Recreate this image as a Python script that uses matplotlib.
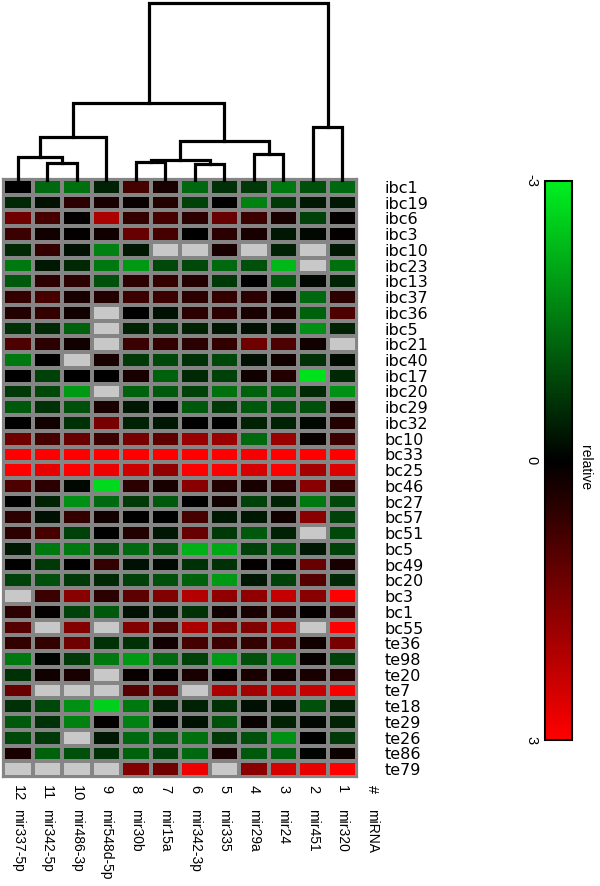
import numpy as np
import matplotlib
matplotlib.use("Agg")
from matplotlib import pyplot as plt
from matplotlib.colors import LinearSegmentedColormap

nan = np.nan

# columns, left to right as drawn
col_numbers = ["12", "11", "10", "9", "8", "7", "6", "5", "4", "3", "2", "1"]
col_names = ["mir337-5p", "mir342-5p", "mir486-3p", "mir548d-5p", "mir30b", "mir15a",
             "mir342-3p", "mir335", "mir29a", "mir24", "mir451", "mir320"]

ibc_rows = ["ibc1", "ibc19", "ibc6", "ibc3", "ibc10", "ibc23", "ibc13", "ibc37",
            "ibc36", "ibc5", "ibc21", "ibc40", "ibc17", "ibc20", "ibc29", "ibc32"]
ibc_values = [
    [0.0, -1.3, -1.4, -0.4, 0.8, 0.3, -1.3, -0.6, -0.7, -1.5, -1.0, -1.3],
    [-0.5, -0.2, 0.5, 0.3, 0.1, 0.4, -0.8, 0.0, -1.6, -0.7, -0.3, -0.3],
    [1.3, 0.8, 0.05, 2.0, 0.6, 0.8, 0.5, 1.2, 0.7, 0.3, -0.8, 0.05],
    [0.7, 0.2, 0.05, 0.2, 1.2, 0.8, 0.0, 0.5, 0.3, -0.3, -0.1, 0.05],
    [-0.5, 0.6, -0.2, -1.6, -0.3, nan, nan, 0.3, nan, -0.4, nan, -0.3],
    [-1.5, -0.3, -0.5, -1.5, -1.9, -0.9, -0.9, -1.3, -1.0, -2.3, nan, -1.4],
    [-1.1, 0.5, 0.5, -1.0, 0.5, 0.6, 0.4, -0.7, 0.0, -1.1, -0.1, -0.4],
    [0.6, 0.8, 0.3, 0.4, 0.7, 0.7, 0.5, 0.6, 0.5, 0.1, -1.3, 0.5],
    [0.4, 0.6, 0.2, nan, 0.0, -0.2, 0.5, 0.5, 0.3, 0.3, -1.2, 0.9],
    [-0.6, -0.5, -1.2, nan, -0.4, -0.6, -0.4, -0.3, -0.2, -0.3, -1.8, -0.4],
    [0.9, 0.5, 0.2, nan, 0.7, 0.6, 0.5, 0.6, 1.3, 0.9, 0.2, nan],
    [-1.5, 0.0, nan, 0.3, -0.7, -0.9, -0.6, -0.9, -0.2, 0.2, -0.6, -0.15],
    [0.0, -0.8, 0.0, 0.0, 0.3, -1.2, -0.5, -0.8, 0.2, 0.4, -2.8, -0.5],
    [-0.7, -0.9, -1.9, nan, -1.2, -1.1, -0.8, -1.4, -1.2, -1.2, -0.5, -1.8],
    [-1.1, -0.6, -1.0, 0.3, -0.3, 0.0, -1.1, -0.7, -1.1, -1.0, -1.0, 0.3],
    [0.0, 0.2, -0.6, 1.4, -0.4, -0.3, 0.0, 0.0, -0.4, -0.4, -0.1, 0.4],
]

bc_rows = ["bc10", "bc33", "bc25", "bc46", "bc27", "bc57", "bc51", "bc5", "bc49",
           "bc20", "bc3", "bc1", "bc55"]
bc_values = [
    [1.3, 0.8, 1.2, 0.7, 1.4, 1.1, 1.8, 1.8, -1.3, 1.8, 0.1, 0.7],
    [3.0, 3.0, 3.0, 3.0, 3.0, 3.0, 3.0, 3.0, 2.9, 3.0, 3.0, 3.0],
    [3.0, 2.7, 3.0, 2.8, 2.4, 1.7, 3.0, 3.0, 2.5, 3.0, 1.9, 2.6],
    [0.9, 0.5, -0.1, -2.7, 0.5, 0.3, 1.6, 0.4, 0.3, 0.5, 1.6, 0.6],
    [0.0, -0.4, -1.8, -1.3, -0.7, -1.1, 0.0, 0.2, -0.8, -0.4, -1.5, -0.9],
    [0.5, -0.2, 0.6, 0.2, 0.0, 0.0, 0.8, -0.3, -0.3, 0.2, 1.6, -0.8],
    [0.5, 0.8, -0.8, 0.0, 0.4, -0.3, 1.2, -0.7, -1.1, -0.4, nan, -0.9],
    [-0.3, -1.5, -1.5, -1.0, -1.3, -1.0, -2.2, -2.1, -0.8, -1.1, -0.3, -0.8],
    [0.0, -0.7, 0.0, 0.6, -0.2, -0.1, -0.6, -0.6, 0.05, 0.05, 1.2, 0.3],
    [-0.8, -1.0, -0.7, -0.5, -0.8, -1.0, -1.2, -1.9, -0.3, -0.8, 1.0, -0.5],
    [nan, 0.7, 1.6, 0.5, 1.1, 1.5, 2.1, 1.7, 1.7, 2.3, 1.6, 3.0],
    [0.5, 0.05, -0.8, -1.1, -0.2, -0.3, -0.6, 0.2, 0.3, 0.4, 0.05, 0.5],
    [1.0, nan, 1.5, nan, 1.5, 1.0, 2.0, 1.5, 1.5, 2.2, nan, 3.0],
]

te_rows = ["te36", "te98", "te20", "te7", "te18", "te29", "te26", "te86", "te79"]
te_values = [
    [0.6, 0.6, 1.3, -0.6, -0.6, 0.2, 0.8, 0.7, 0.6, 1.0, 0.2, 1.4],
    [-1.5, -0.05, -0.7, -1.5, -1.9, -1.3, -0.8, -1.9, -1.0, -1.7, 0.1, -0.8],
    [-0.6, 0.2, 0.3, nan, 0.1, 0.05, 0.3, 0.05, 0.3, 0.2, 0.3, 0.4],
    [1.2, nan, nan, nan, 1.0, 1.2, nan, 2.0, 1.9, 2.3, 2.3, 2.9],
    [-0.6, -0.9, -1.8, -2.6, -1.5, -0.4, -0.4, -0.6, -0.2, -0.2, -1.0, -0.4],
    [-1.1, -0.6, -1.6, 0.05, -1.6, 0.0, -0.2, -1.0, 0.1, -0.4, -0.1, -0.4],
    [-0.9, -0.7, nan, -0.3, -1.3, -1.1, -1.4, -0.7, -1.0, -1.8, 0.0, -0.7],
    [0.3, -1.2, -1.0, -0.6, -1.2, -0.8, -1.3, 0.3, -1.1, -1.2, -0.05, 0.15],
    [nan, nan, nan, nan, 1.5, 1.3, 2.8, nan, 1.6, 2.5, 2.7, 3.0],
]

# column clustering: (left node, right node, height); leaves are 0..11
merges = [
    (1, 2, 17), (0, 12, 23), (13, 3, 43),
    (4, 5, 18), (6, 7, 16), (15, 16, 20.5),
    (8, 9, 26), (17, 18, 39), (14, 19, 77),
    (10, 11, 53), (20, 21, 177),
]

row_names = ibc_rows + bc_rows + te_rows
data = np.array(ibc_values + bc_values + te_values)
n_rows, n_cols = data.shape

cmap = LinearSegmentedColormap.from_list("gkr", ["#00f020", "#000000", "#ff0000"])
cmap.set_bad("#c8c8c8")

fig = plt.figure(figsize=(6, 8.86), dpi=100)
W, H = 600.0, 886.0

# heatmap
ax = fig.add_axes([3 / W, 1 - 777 / H, 354 / W, 598 / H])
mesh = ax.pcolormesh(np.ma.masked_invalid(data), cmap=cmap, vmin=-3, vmax=3,
                     edgecolors="#858585", linewidth=1.6)
ax.set_xlim(0, n_cols)
ax.set_ylim(n_rows, 0)
for s in ax.spines.values():
    s.set_color("#858585")
    s.set_linewidth(1.6)
ax.set_xticks([])
ax.yaxis.tick_right()
ax.set_yticks(np.arange(n_rows) + 0.5)
ax.set_yticklabels(row_names, fontsize=11.5, family="DejaVu Sans")
ax.tick_params(axis="y", length=0, pad=20)

# column labels under the heatmap
tr = ax.get_xaxis_transform()
for i, (num, name) in enumerate(zip(col_numbers + ["#"], col_names + ["miRNA"])):
    x = i + 0.5
    ax.text(x, -0.013, num, transform=tr, rotation=-90, rotation_mode="anchor",
            ha="left", va="center", fontsize=10.5, family="Liberation Sans", clip_on=False)
    ax.text(x, -0.054, name, transform=tr, rotation=-90, rotation_mode="anchor",
            ha="left", va="center", fontsize=10, family="Liberation Sans", clip_on=False)

# dendrogram on top
dax = fig.add_axes([3 / W, 1 - 180 / H, 354 / W, 180 / H])
pos = {i: (i + 0.5, 0.0) for i in range(n_cols)}
for k, (a, b, h) in enumerate(merges):
    xa, ha_ = pos[a]
    xb, hb = pos[b]
    dax.plot([xa, xa, xb, xb], [ha_, h, h, hb], color="black", lw=2.3,
             solid_joinstyle="miter", clip_on=False)
    pos[n_cols + k] = ((xa + xb) / 2, h)
dax.set_xlim(0, n_cols)
dax.set_ylim(0, 180)
dax.axis("off")

# colour bar
cax = fig.add_axes([545 / W, 1 - 740 / H, 27 / W, 559 / H])
cb = fig.colorbar(mesh, cax=cax, ticks=[-3, 0, 3])
cax.invert_yaxis()
cax.yaxis.set_ticks_position("left")
cax.tick_params(length=0, pad=5)
cax.set_yticklabels(["-3", "0", "3"], rotation=-90, va="center", ha="right",
                    fontsize=10.5, family="Liberation Sans")
cb.outline.set_linewidth(1.5)
cb.outline.set_edgecolor("black")
fig.text(585 / W, 1 - 468 / H, "relative", rotation=-90, ha="center", va="center",
         fontsize=10, family="Liberation Sans")

fig.savefig("out.png", dpi=100)
